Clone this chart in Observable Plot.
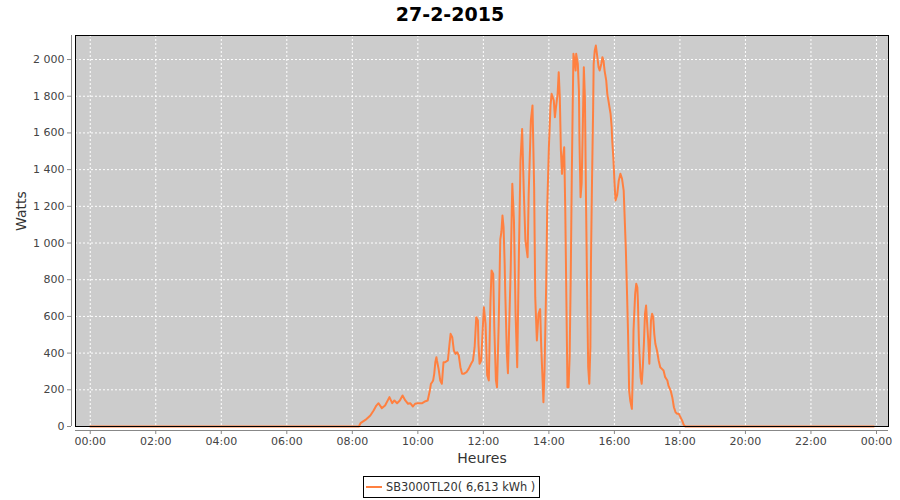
<!DOCTYPE html>
<html>
<head>
<meta charset="utf-8">
<script src="https://cdn.jsdelivr.net/npm/d3@7"></script>
<script src="https://cdn.jsdelivr.net/npm/@observablehq/plot@0.6"></script>
<style>
  html, body { margin: 0; padding: 0; background: #fff; }
  #wrap { position: relative; width: 900px; height: 500px; font-family: "DejaVu Sans", sans-serif; }
  #title { height: 30px; line-height: 28px; text-align: center; font-weight: bold; font-size: 19px; color: #000; }
  #legend { position: absolute; left: 363px; top: 476px; height: 20px; padding: 0 4px 0 2px; border: 1px solid #000;
            display: flex; align-items: center; font-size: 11.4px; color: #333; background: #fff; }
  #legend .sw { width: 16px; height: 2px; background: #ff8040; margin-right: 4px; }
</style>
</head>
<body>
<div id="wrap">
  <div id="title"></div>
  <div id="chart"></div>
  <div id="legend"><span class="sw"></span><span id="legtext"></span></div>
</div>
<script>
const chartTitle = "27-2-2015";
const seriesName = "SB3000TL20( 6,613 kWh )";
const yLabel = "Watts";
const xLabel = "Heures";
const yTicks = [0, 200, 400, 600, 800, 1000, 1200, 1400, 1600, 1800, 2000];
const xTickHours = [0, 2, 4, 6, 8, 10, 12, 14, 16, 18, 20, 22, 24];

const times = [
  "00:00","08:12","08:15","08:24","08:33","08:39","08:44","08:48","08:54","09:00",
  "09:08","09:13","09:17","09:22","09:27","09:32","09:37","09:42","09:46","09:51",
  "09:55","10:00","10:08","10:14","10:18","10:22","10:24","10:26","10:28","10:30",
  "10:32","10:34","10:35","10:38","10:41","10:44","10:47","10:50","10:55","10:58",
  "11:00","11:03","11:06","11:09","11:12","11:15","11:18","11:21","11:24","11:29",
  "11:33","11:38","11:41","11:44","11:47","11:50","11:51","11:53","11:56","11:59",
  "12:01","12:04","12:07","12:10","12:13","12:15","12:18","12:20","12:23","12:25",
  "12:28","12:31","12:33","12:35","12:37","12:39","12:40","12:43","12:45","12:50",
  "12:53","12:56","12:59","13:02","13:05","13:08","13:11","13:14","13:17","13:21",
  "13:23","13:27","13:30","13:33","13:35","13:38","13:41","13:44","13:46","13:49",
  "13:50","13:52","13:55","13:57","14:00","14:03","14:05","14:09","14:11","14:13",
  "14:16","14:18","14:20","14:22","14:24","14:26","14:28","14:30","14:32","14:34",
  "14:36","14:38","14:40","14:42","14:44","14:45","14:47","14:49","14:50","14:53",
  "14:55","14:56","14:58","15:00","15:02","15:04","15:06","15:08","15:10","15:12",
  "15:14","15:16","15:17","15:19","15:21","15:22","15:24","15:26","15:28","15:31",
  "15:33","15:36","15:38","15:40","15:42","15:45","15:47","15:49","15:51","15:53",
  "15:55","15:56","15:58","16:00","16:02","16:05","16:08","16:11","16:14","16:17",
  "16:19","16:21","16:23","16:25","16:27","16:29","16:32","16:34","16:35","16:38",
  "16:40","16:42","16:43","16:45","16:48","16:50","16:52","16:54","16:56","16:58",
  "17:00","17:02","17:04","17:05","17:07","17:09","17:11","17:13","17:15","17:18",
  "17:21","17:24","17:27","17:30","17:33","17:37","17:39","17:43","17:46","17:49",
  "17:52","17:55","17:58","18:01","18:04","18:07","18:10","23:55"
];
const watts = [
  0,0,18,36,60,87,114,127,100,114,
  160,127,142,127,142,169,142,124,127,109,
  124,127,127,138,142,196,233,241,251,287,
  350,378,360,314,251,233,350,350,360,451,
  505,487,414,396,405,387,323,287,287,296,
  314,345,360,432,596,578,451,342,360,541,
  650,560,280,251,680,850,832,541,251,214,
  550,1020,1060,1150,1086,887,741,400,290,850,
  1323,1123,614,323,923,1450,1622,1286,1014,923,
  1268,1668,1750,1305,705,469,614,640,432,214,
  132,310,759,1195,1522,1750,1813,1777,1686,1740,
  1813,1931,1795,1504,1377,1468,1522,1177,705,214,
  214,378,814,1377,1831,2031,1995,1940,2031,1976,
  1831,1559,1250,1323,1613,1958,1795,1232,741,323,
  233,432,887,1341,1722,1976,2049,2076,2031,1958,
  1940,1976,2013,1995,1940,1886,1813,1777,1740,1704,
  1631,1559,1468,1340,1232,1260,1341,1377,1350,1286,
  1123,959,741,505,196,142,96,323,523,723,
  778,759,687,451,269,233,323,451,614,659,
  560,469,342,432,578,614,596,505,451,414,
  360,323,314,305,269,251,223,196,160,105,
  78,69,69,51,33,9,0,0
];

const toDate = (h, m) => new Date(Date.UTC(2015, 1, 27, h, m));
const data = times.map((t, i) => {
  const [h, m] = t.split(":").map(Number);
  return {time: toDate(h, m), watts: watts[i]};
});

const xDomain = [toDate(0, -27), toDate(24, 22)];
const xTicks = xTickHours.map(h => toDate(h, 0));
const frLocale = d3.formatLocale({decimal: ",", thousands: "\u00a0", grouping: [3], currency: ["", ""]});
const yFmt = frLocale.format(",d");
const xFmt = d3.utcFormat("%H:%M");

document.getElementById("title").textContent = chartTitle;
document.getElementById("legtext").textContent = seriesName;

const chart = Plot.plot({
  width: 900,
  height: 440,
  marginLeft: 75,
  marginRight: 12,
  marginTop: 5,
  marginBottom: 44,
  style: {fontFamily: "DejaVu Sans, sans-serif", fontSize: "11px", color: "#444", background: "#fff"},
  x: {type: "utc", domain: xDomain},
  y: {domain: [0, 2131]},
  marks: [
    Plot.frame({fill: "#cccccc", stroke: null}),
    Plot.gridX(xTicks, {stroke: "#fff", strokeOpacity: 1, strokeDasharray: "2,2"}),
    Plot.gridY(yTicks, {stroke: "#fff", strokeOpacity: 1, strokeDasharray: "2,2"}),
    Plot.line(data, {x: "time", y: "watts", stroke: "#ff8040", strokeWidth: 2}),
    Plot.frame({stroke: "#000", strokeWidth: 1}),
    Plot.ruleY([0], {dy: 4, stroke: "#888"}),
    Plot.ruleX([xDomain[0]], {dx: -4, stroke: "#888"}),
    Plot.axisX(xTicks, {tickSize: 4, dy: 4, tickFormat: xFmt, tickPadding: 3, label: null, stroke: "#888", fill: "#444"}),
    Plot.axisY(yTicks, {tickSize: 4, dx: -4, tickFormat: yFmt, tickPadding: 3, label: null, stroke: "#888", fill: "#444"}),
    Plot.text([yLabel], {frameAnchor: "left", rotate: -90, dx: -54, fontSize: 14, fill: "#333"}),
    Plot.text([xLabel], {frameAnchor: "bottom", dy: 36, fontSize: 14, fill: "#333"})
  ]
});
document.getElementById("chart").appendChild(chart);
</script>
</body>
</html>
